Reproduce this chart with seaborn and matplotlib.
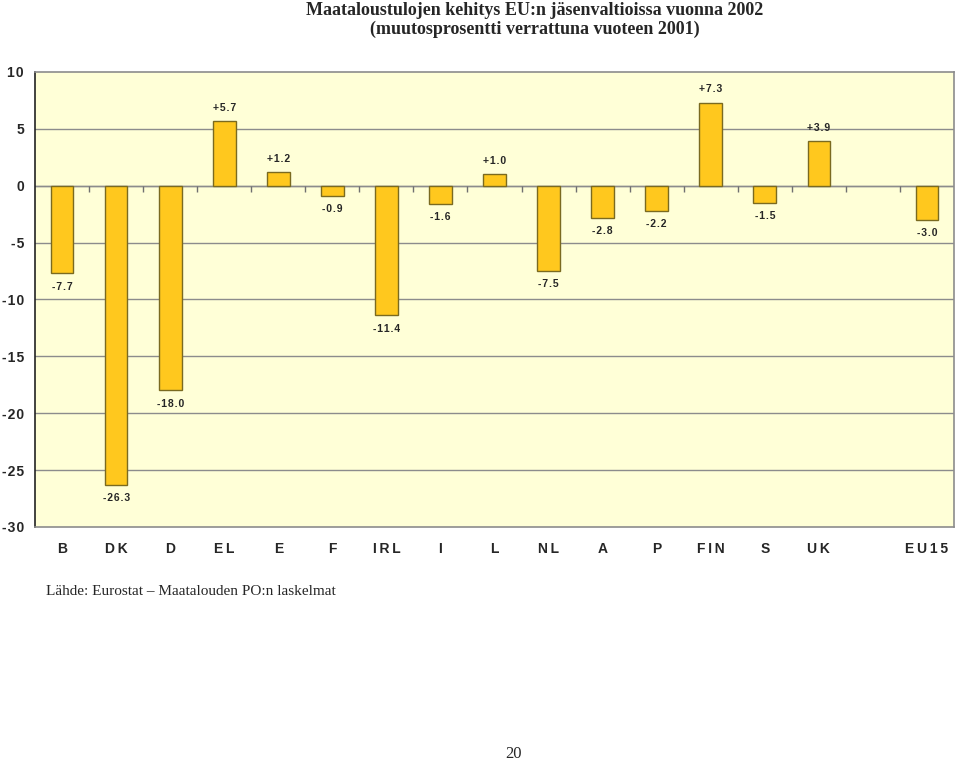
import numpy as np
import pandas as pd
import matplotlib
matplotlib.use("Agg")
import matplotlib.pyplot as plt
import seaborn as sns

# data
maat = ["B", "DK", "D", "EL", "E", "F", "IRL", "I", "L", "NL", "A", "P", "FIN", "S", "UK", "EU15"]
muutos = [-7.7, -26.3, -18.0, 5.7, 1.2, -0.9, -11.4, -1.6, 1.0, -7.5, -2.8, -2.2, 7.3, -1.5, 3.9, -3.0]
# empty slot between UK and EU15
jarjestys = maat[:-1] + [" "] + maat[-1:]

df = pd.DataFrame({"maa": maat, "muutos": muutos})


def harvenna(s, vali="\u2009"):
    # wide letter spacing like in the original
    return vali.join(list(s))


sns.set_style("white")
plt.rcParams["font.family"] = ["Liberation Sans", "DejaVu Sans"]

fig = plt.figure(figsize=(9.59, 7.69), dpi=100)
ax = fig.add_axes([0.0365, 0.3147, 0.9583, 0.5917])
ax.set_facecolor("#FFFFD7")

sns.barplot(data=df, x="maa", y="muutos", order=jarjestys, color="#FFC81E",
            saturation=1, width=0.42, edgecolor="#7A6A20", linewidth=1.0, ax=ax, zorder=3)

ax.set_ylim(-30, 10)
ax.set_xlim(-0.5, len(jarjestys) - 0.5)
ax.set_yticks(range(-30, 11, 5))
ax.set_yticklabels([harvenna(str(v), "\u200a") for v in range(-30, 11, 5)], fontsize=10, fontweight="bold")
for y in range(-25, 10, 5):
    ax.axhline(y, color="#8C8C8C", lw=1.0, zorder=1)
ax.axhline(0, color="#8C8C8C", lw=1.0, zorder=2)

# little tick marks on the zero line between categories
rajat = np.arange(len(jarjestys) - 1) + 0.5
ax.plot(rajat, np.zeros(len(rajat)), linestyle="none", marker=3, markersize=4,
        color="#707070", mew=1.0, zorder=2)

ax.tick_params(axis="y", length=4, width=1, color="#333333", pad=4)
ax.tick_params(axis="x", length=0, pad=11)
ax.set_xticks(range(len(jarjestys)))
ax.set_xticklabels([harvenna(k) for k in jarjestys], fontsize=10, fontweight="bold")
ax.set_xlabel("")
ax.set_ylabel("")

for s in ["top", "right", "bottom"]:
    ax.spines[s].set_color("#8C8C8C")
    ax.spines[s].set_linewidth(1.2)
ax.spines["left"].set_color("#222222")
ax.spines["left"].set_linewidth(1.2)

# value labels
for m, v in zip(maat, muutos):
    x = jarjestys.index(m)
    teksti = f"{v:+.1f}" if v > 0 else f"{v:.1f}"
    teksti = harvenna(teksti, "\u200a")
    if v > 0:
        ax.annotate(teksti, (x, v), xytext=(0, 6), textcoords="offset points",
                    ha="center", va="bottom", fontsize=7.5, fontweight="bold")
    else:
        ax.annotate(teksti, (x, v), xytext=(0, -6), textcoords="offset points",
                    ha="center", va="top", fontsize=7.5, fontweight="bold")

fig.text(0.558, 0.997, "Maataloustulojen kehitys EU:n jäsenvaltioissa vuonna 2002\n(muutosprosentti verrattuna vuoteen 2001)",
         ha="center", va="top", fontsize=13, fontweight="bold", family="Liberation Serif",
         linespacing=1.1)
fig.text(0.048, 0.231, "Lähde: Eurostat – Maatalouden PO:n laskelmat", ha="left", va="center",
         fontsize=11, family="Liberation Serif")
fig.text(0.535, 0.009, "20", ha="center", va="bottom", fontsize=12, family="Liberation Serif")

fig.savefig("out.png", dpi=100, facecolor="white")
